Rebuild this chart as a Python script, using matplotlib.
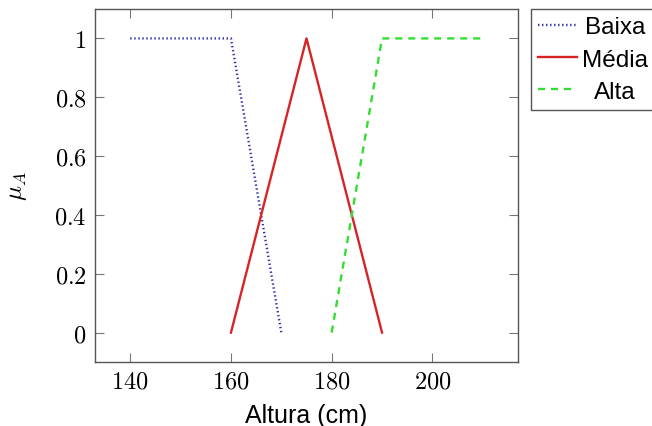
import matplotlib
matplotlib.use("Agg")
import matplotlib.pyplot as plt
from matplotlib.ticker import FuncFormatter

plt.rcParams['mathtext.fontset'] = 'cm'
plt.rcParams['font.family'] = ['Liberation Sans', 'DejaVu Sans']

# membership functions (altura em cm)
baixa_x = [140, 160, 170]
baixa_y = [1, 1, 0]
media_x = [160, 175, 190]
media_y = [0, 1, 0]
alta_x = [180, 190, 210]
alta_y = [0, 1, 1]

xticks = [140, 160, 180, 200]
yticks = [0, 0.2, 0.4, 0.6, 0.8, 1]

fig = plt.figure(figsize=(6.52, 4.27), dpi=100)
ax = fig.add_axes([95/652, 1-363/427, 423/652, 353/427])

ax.plot(baixa_x, baixa_y, color='#3434a8', linestyle=(0, (0.6, 1.1)), linewidth=1.7, label='Baixa')
ax.plot(media_x, media_y, color='#d62424', linestyle='-', linewidth=1.7, label='Média')
ax.plot(alta_x, alta_y, color='#33dd33', linestyle=(0, (3, 2.5)), linewidth=1.7, label='Alta')

ax.set_xlim(133, 217)
ax.set_ylim(-0.1, 1.1)
ax.set_xticks(xticks)
ax.set_yticks(yticks)
fmt = FuncFormatter(lambda v, pos: f'${v:g}$')
ax.xaxis.set_major_formatter(fmt)
ax.yaxis.set_major_formatter(fmt)
ax.tick_params(direction='in', length=6.5, width=0.8, color='#777777',
               top=True, right=True, labelsize=17.5, pad=6)
for s in ax.spines.values():
    s.set_color('#555555')
    s.set_linewidth(1.0)

ax.set_xlabel("Altura (cm)", fontsize=18)
ax.set_ylabel(r"$\mu_A$", fontsize=18)
ax.xaxis.set_label_coords(0.5, -0.115)
ax.yaxis.set_label_coords(-0.155, 0.5)

leg = ax.legend(loc='upper left', bbox_to_anchor=(531/652, 1-10/427),
                bbox_transform=fig.transFigure, borderaxespad=0,
                fontsize=17.5, handlelength=1.6, handletextpad=0.2,
                borderpad=0.3, labelspacing=0.42, fancybox=False,
                framealpha=1, edgecolor='#555555')
leg.get_frame().set_linewidth(1.0)

# center legend texts like pgfplots
fig.canvas.draw()
r = fig.canvas.get_renderer()
texts = leg.get_texts()
widths = [t.get_window_extent(r).width for t in texts]
wmax = max(widths)
for t, w in zip(texts, widths):
    t.set_position(((wmax - w) / 2, 0))

fig.savefig("out.png", dpi=100)
